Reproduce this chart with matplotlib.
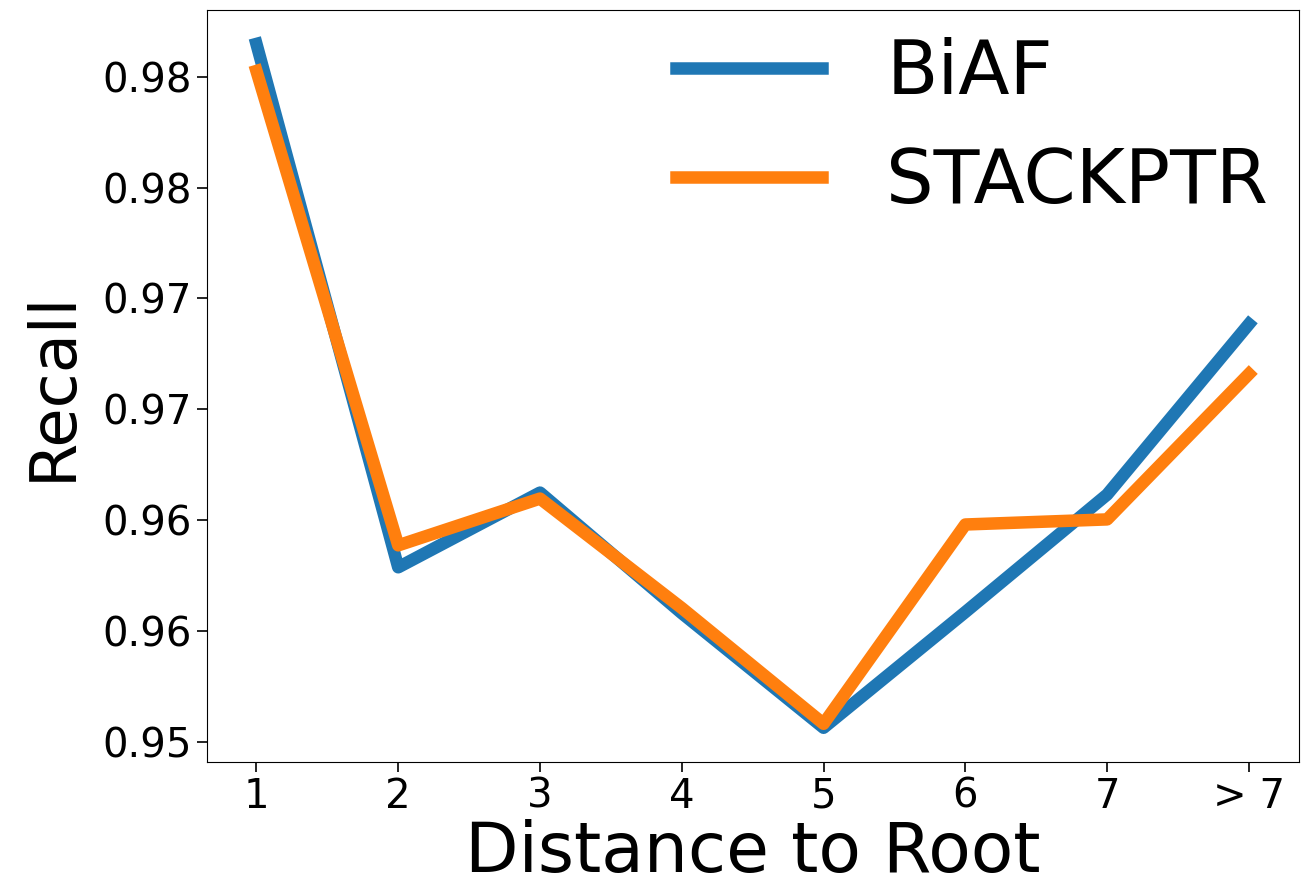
import matplotlib
matplotlib.use("Agg")
import matplotlib.pyplot as plt

# data
distance = ["1", "2", "3", "4", "5", "6", "7", "> 7"]
biaf = [0.98148, 0.95787, 0.96124, 0.95580, 0.95063, 0.95585, 0.96115, 0.96884]
stackptr = [0.98026, 0.95886, 0.96097, 0.95603, 0.95081, 0.95980, 0.96003, 0.96659]
ytick_values = [0.950, 0.955, 0.960, 0.965, 0.970, 0.975, 0.980]
ytick_labels = ["0.95", "0.96", "0.96", "0.97", "0.97", "0.98", "0.98"]

fig = plt.figure(figsize=(13.09, 8.86), dpi=100)
ax = fig.add_axes([0.158, 0.140, 0.834, 0.849])

x = list(range(1, len(distance) + 1))
ax.plot(x, biaf, color="#1f77b4", lw=9, label="BiAF")
ax.plot(x, stackptr, color="#ff7f0e", lw=9, label="STACKPTR")

ax.set_xticks(x)
ax.set_xticklabels(distance)
ax.set_yticks(ytick_values)
ax.set_yticklabels(ytick_labels)
ax.tick_params(labelsize=29, length=7, width=1.2)

ax.set_xlabel("Distance to Root", fontsize=50, labelpad=2)
ax.set_ylabel("Recall", fontsize=46, labelpad=14)

ax.legend(fontsize=54, frameon=False, loc="upper right",
          bbox_to_anchor=(1.034, 1.053), handlelength=1.95, handletextpad=0.85,
          labelspacing=0.48)

fig.savefig("out.png", dpi=100)
